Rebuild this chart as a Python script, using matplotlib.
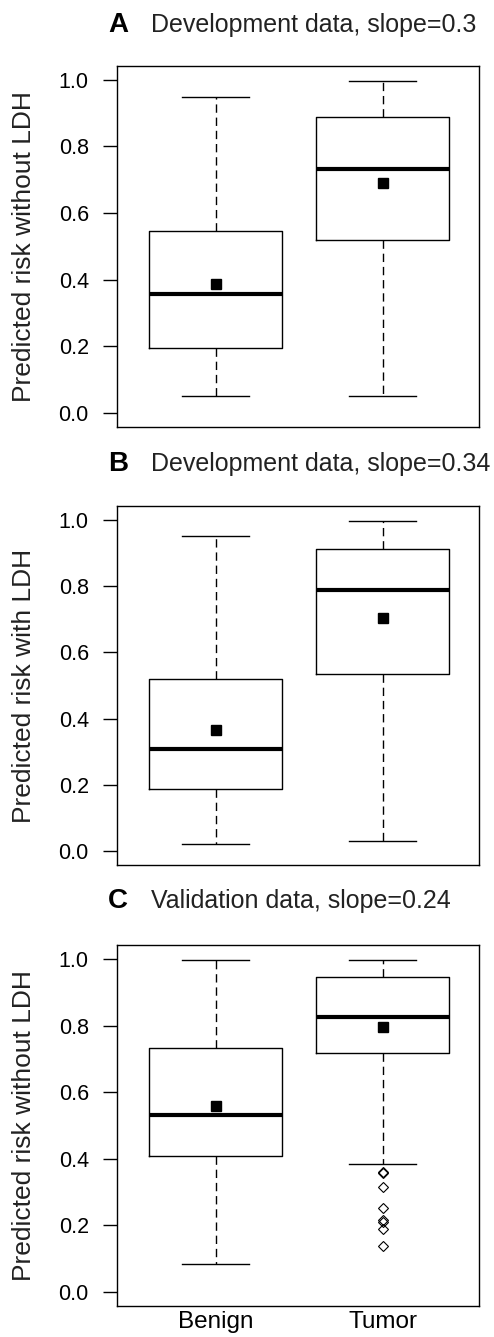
import matplotlib
matplotlib.use("Agg")
import matplotlib.pyplot as plt

plt.rcParams['font.family'] = ['Liberation Sans', 'DejaVu Sans']

groups = ["Benign", "Tumor"]
panel_letters = ["A", "B", "C"]
panel_titles = ["Development data, slope=0.3",
                "Development data, slope=0.34",
                "Validation data, slope=0.24"]
y_labels = ["Predicted risk without LDH",
            "Predicted risk with LDH",
            "Predicted risk without LDH"]

# box statistics per panel, [Benign, Tumor]
whislo = [[0.050, 0.050], [0.022, 0.032], [0.085, 0.385]]
q1 = [[0.194, 0.518], [0.187, 0.536], [0.409, 0.719]]
med = [[0.357, 0.733], [0.310, 0.789], [0.531, 0.827]]
q3 = [[0.546, 0.887], [0.521, 0.912], [0.733, 0.945]]
whishi = [[0.949, 0.996], [0.950, 0.996], [0.997, 0.997]]
means = [[0.387, 0.689], [0.366, 0.704], [0.558, 0.795]]
fliers = [[[], []],
          [[], []],
          [[], [0.360, 0.357, 0.314, 0.253, 0.217, 0.210, 0.189, 0.138]]]

yticks = [0.0, 0.2, 0.4, 0.6, 0.8, 1.0]

W, H = 494, 1337
fig = plt.figure(figsize=(W / 100, H / 100), dpi=100)

# axes frames in pixels: (left, top, right, bottom)
frames = [(117.3, 66, 479.3, 426.7),
          (117.3, 506, 479.3, 865),
          (117.3, 945.3, 479.3, 1305.7)]
title_base = [32, 471, 908]

for i in range(3):
    l, t, r, b = frames[i]
    ax = fig.add_axes([l / W, 1 - b / H, (r - l) / W, (b - t) / H])

    stats = []
    for j in range(2):
        stats.append(dict(med=med[i][j], q1=q1[i][j], q3=q3[i][j],
                          whislo=whislo[i][j], whishi=whishi[i][j],
                          mean=means[i][j], fliers=fliers[i][j]))

    ax.bxp(stats, positions=[1, 2], widths=0.8, showmeans=True,
           boxprops=dict(color="black", lw=1.0),
           medianprops=dict(color="black", lw=3.0, solid_capstyle="butt"),
           whiskerprops=dict(color="black", lw=1.0, linestyle=(0, (6, 3.5))),
           capprops=dict(color="black", lw=1.0),
           meanprops=dict(marker="s", markersize=6.5, markerfacecolor="black",
                          markeredgecolor="black"),
           flierprops=dict(marker="D", markersize=4.8, markerfacecolor="none",
                           markeredgecolor="black", markeredgewidth=0.8))

    ax.set_xlim(0.41, 2.58)
    ax.set_ylim(-0.041, 1.041)
    ax.set_yticks(yticks)
    ax.set_yticklabels(["%.1f" % v for v in yticks])
    ax.set_xticks([1, 2])
    if i == 2:
        ax.set_xticklabels(groups)
    else:
        ax.set_xticklabels([])
    ax.tick_params(axis="y", length=10, width=1.0, pad=10.5, labelsize=15.5)
    ax.tick_params(axis="x", length=0, pad=4, labelsize=17.5)
    for s in ax.spines.values():
        s.set_linewidth(1.0)

    fig.text(24 / W, 1 - (t + b) / 2 / H, y_labels[i], rotation=90,
             ha="center", va="center", fontsize=19, color="#222222")

    fig.text(108 / W, 1 - title_base[i] / H, panel_letters[i],
             fontweight="bold", fontsize=20, va="baseline", ha="left")
    fig.text(151 / W, 1 - title_base[i] / H, panel_titles[i],
             fontsize=18, va="baseline", ha="left", color="#222222")

fig.savefig("out.png", dpi=100)
